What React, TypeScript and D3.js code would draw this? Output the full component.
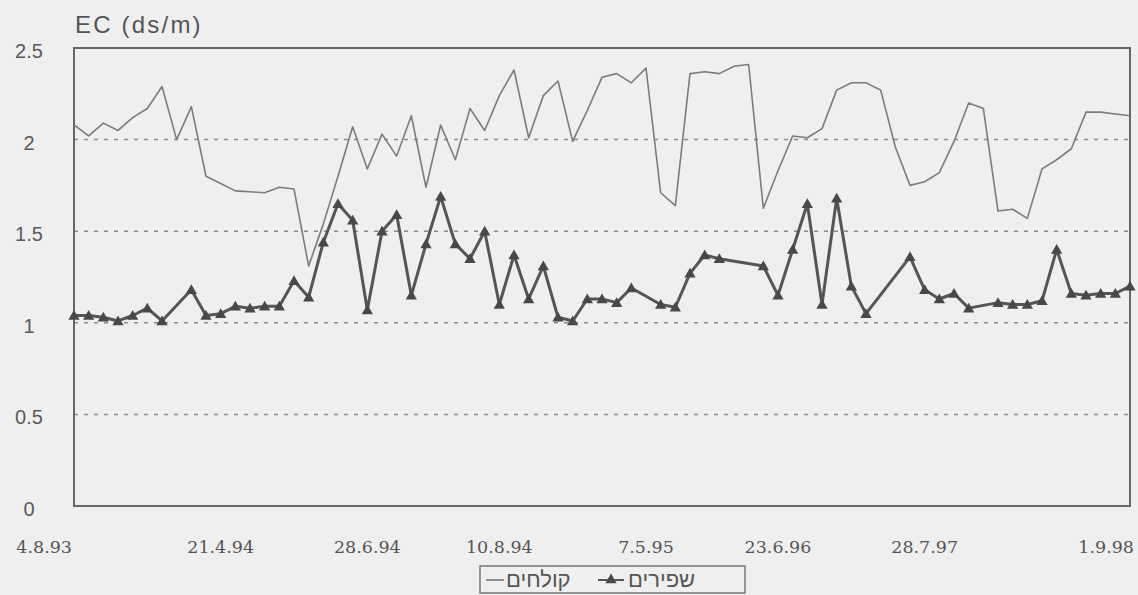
import * as d3 from 'd3'

// EC of fresh water (שפירים, triangles) and treated effluent (קולחים, plain line)
const FRESH: (number | null)[] = [
  1.04, 1.04, 1.03, 1.01, 1.04, 1.08, 1.01, null, 1.18, 1.04,
  1.05, 1.09, 1.08, 1.09, 1.09, 1.23, 1.14, 1.44, 1.65, 1.56,
  1.07, 1.5, 1.59, 1.15, 1.43, 1.69, 1.43, 1.35, 1.5, 1.1,
  1.37, 1.13, 1.31, 1.03, 1.01, 1.13, 1.13, 1.11, 1.19, null,
  1.1, 1.085, 1.27, 1.37, 1.35, null, null, 1.31, 1.15, 1.4,
  1.65, 1.1, 1.68, 1.2, 1.05, null, null, 1.36, 1.18, 1.13,
  1.16, 1.08, null, 1.11, 1.1, 1.1, 1.12, 1.4, 1.16, 1.15,
  1.16, 1.16, 1.2,
]

const EFFLUENT: number[] = [
  2.08, 2.02, 2.09, 2.05, 2.12, 2.17, 2.29, 2.0, 2.18, 1.8,
  1.76, 1.72, 1.715, 1.71, 1.74, 1.73, 1.31, 1.54, 1.8, 2.07,
  1.84, 2.03, 1.91, 2.13, 1.74, 2.08, 1.89, 2.17, 2.05, 2.24,
  2.38, 2.01, 2.24, 2.32, 1.99, 2.16, 2.34, 2.36, 2.31, 2.39,
  1.71, 1.64, 2.36, 2.37, 2.36, 2.4, 2.41, 1.625, 1.83, 2.02,
  2.01, 2.06, 2.27, 2.31, 2.31, 2.27, 1.96, 1.75, 1.77, 1.82,
  1.99, 2.2, 2.17, 1.61, 1.62, 1.57, 1.84, 1.89, 1.95, 2.15,
  2.15, 2.14, 2.13,
]

const TICK_LABELS = ['4.8.93', '21.4.94', '28.6.94', '10.8.94', '7.5.95', '23.6.96', '28.7.97', '1.9.98']
const TICK_INDEX = [0, 10, 20, 29, 39, 48, 58, 72]
const Y_TICKS = [0, 0.5, 1, 1.5, 2, 2.5]
const GRID = [0.5, 1, 1.5, 2]

const LEGEND_FRESH = 'שפירים'
const LEGEND_EFFLUENT = 'קולחים'

const W = 1138
const H = 595
const margin = { top: 48, right: 8, bottom: 89, left: 74 }

const SANS = 'Liberation Sans, Arial, sans-serif'

export default function App() {
  const x = d3.scaleLinear()
    .domain([0, EFFLUENT.length - 1])
    .range([margin.left, W - margin.right])
  const y = d3.scaleLinear().domain([0, 2.5]).range([H - margin.bottom, margin.top])

  const effluentLine = d3.line<number>()
    .x((_, i) => x(i))
    .y(d => y(d))

  const freshPts = FRESH
    .map((v, i) => ({ i, v }))
    .filter(d => d.v !== null) as { i: number; v: number }[]
  const freshLine = d3.line<{ i: number; v: number }>()
    .x(d => x(d.i))
    .y(d => y(d.v))

  const tri = d3.symbol().type(d3.symbolTriangle).size(55)()

  const x0 = x(0)
  const x1 = x(EFFLUENT.length - 1)
  const yTop = y(2.5)
  const yBot = y(0)

  const legX = 480
  const legY = 580

  return (
    <svg width={W} height={H} style={{ position: 'absolute', left: 0, top: 0 }}>
      <rect x={0} y={0} width={W} height={H} fill="#efefef" />

      {/* title */}
      <text x={75} y={33} fontFamily={SANS} fontSize={24} letterSpacing={2.2} fill="#555">
        EC (ds/m)
      </text>

      {/* grid */}
      {GRID.map(g => (
        <line key={g} x1={x0} x2={x1} y1={y(g)} y2={y(g)}
          stroke="#8a8a8a" strokeWidth={1.5} strokeDasharray="4 6" />
      ))}

      {/* frame */}
      <rect x={x0} y={yTop} width={x1 - x0} height={yBot - yTop} fill="none" stroke="#666" strokeWidth={2} />

      {/* y tick labels */}
      {Y_TICKS.map(t => (
        <text key={t} x={29} y={y(t) + 3} dy="0.35em" textAnchor="middle"
          fontFamily={SANS} fontSize={20} fill="#5a5a5a">
          {t}
        </text>
      ))}

      {/* x tick labels */}
      {TICK_LABELS.map((lab, k) => {
        const edge = k === 0 || k === TICK_LABELS.length - 1
        return (
          <text key={lab} x={x(TICK_INDEX[k]) + (edge ? (k === 0 ? -2 : 4) : 0)} y={553}
            textAnchor={edge ? 'end' : 'middle'}
            fontFamily="DejaVu Serif, serif" fontSize={17.5} fill="#555">
            {lab}
          </text>
        )
      })}

      {/* effluent line */}
      <path d={effluentLine(EFFLUENT) ?? ''} fill="none" stroke="#7c7c7c" strokeWidth={1.6} strokeLinejoin="round" />

      {/* fresh water line + markers */}
      <path d={freshLine(freshPts) ?? ''} fill="none" stroke="#555" strokeWidth={3} strokeLinejoin="round" />
      {freshPts.map(d => (
        <path key={d.i} d={tri ?? ''} transform={`translate(${x(d.i)},${y(d.v) + 1})`} fill="#484848" />
      ))}

      {/* legend */}
      <rect x={legX} y={566} width={265} height={27} fill="none" stroke="#777" strokeWidth={1.5} />
      <line x1={legX + 6} x2={legX + 24} y1={legY} y2={legY} stroke="#777" strokeWidth={1.6} />
      <text x={legX + 26} y={legY + 7} fontFamily={SANS} fontSize={22} fill="#555"
        direction="rtl" textAnchor="end" style={{ unicodeBidi: 'plaintext' }}>
        {LEGEND_EFFLUENT}
      </text>
      <line x1={legX + 118} x2={legX + 144} y1={legY} y2={legY} stroke="#555" strokeWidth={2} />
      <path d={tri ?? ''} transform={`translate(${legX + 131},${legY})`} fill="#484848" />
      <text x={legX + 148} y={legY + 7} fontFamily={SANS} fontSize={22} fill="#555"
        direction="rtl" textAnchor="end" style={{ unicodeBidi: 'plaintext' }}>
        {LEGEND_FRESH}
      </text>
    </svg>
  )
}
